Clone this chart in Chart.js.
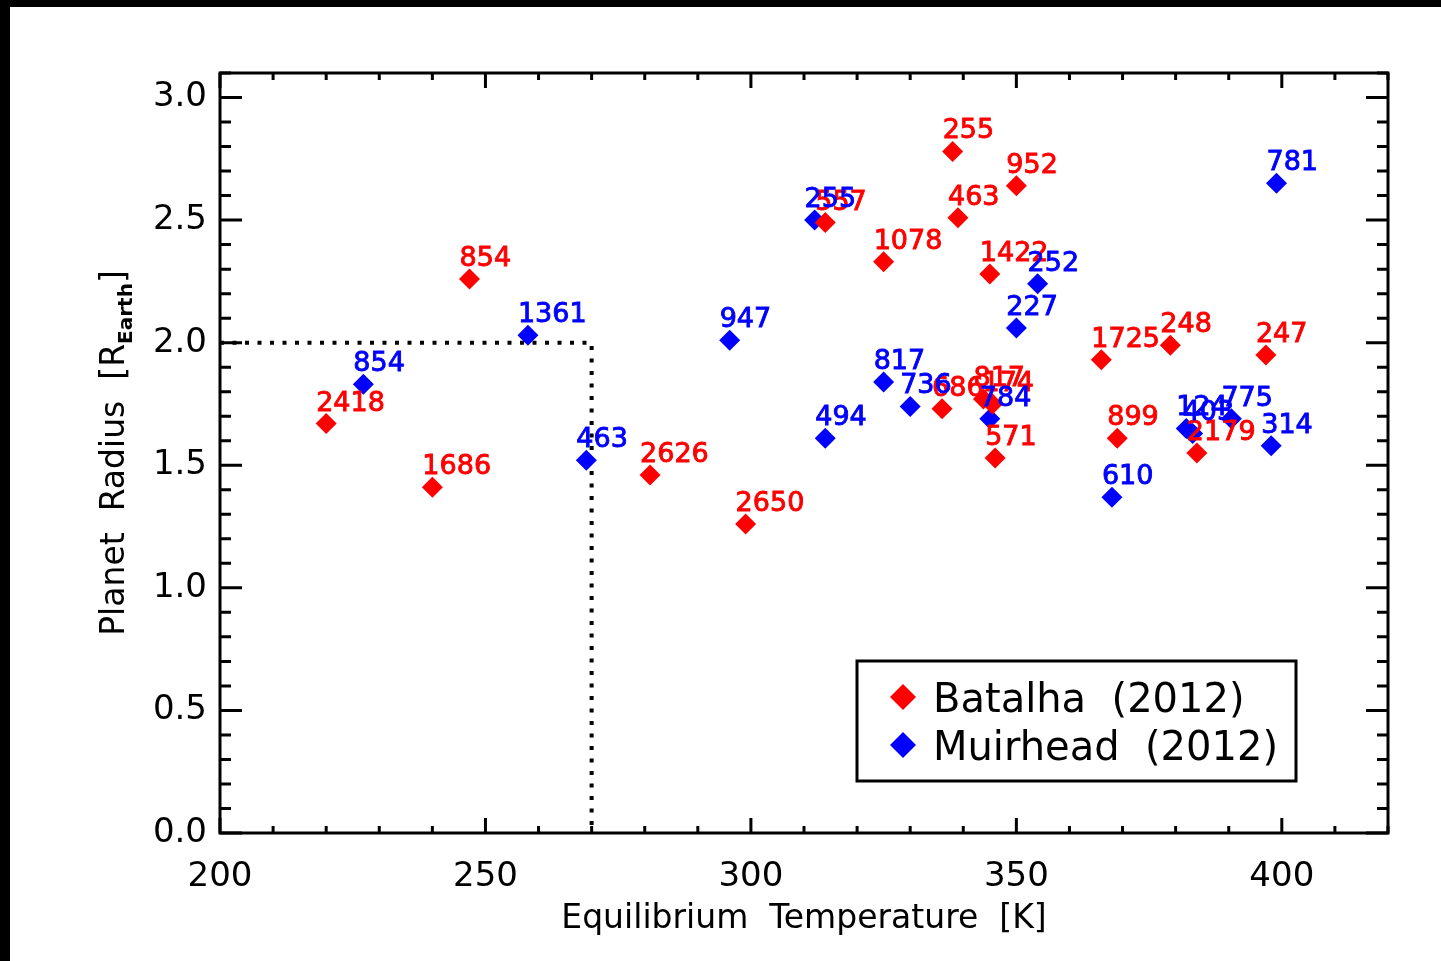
<!DOCTYPE html>
<html>
<head>
<meta charset="utf-8">
<script src="https://cdn.jsdelivr.net/npm/chart.js@4.4.1/dist/chart.umd.min.js"></script>
<style>
  body { margin: 0; background: #fff; }
  #wrap { position: relative; width: 1441px; height: 961px; overflow: hidden; }
  #barTop { position: absolute; left: 0; top: 0; width: 1441px; height: 7px; background: #000; }
  #barLeft { position: absolute; left: 0; top: 0; width: 10px; height: 961px; background: #000; }
  canvas { position: absolute; left: 0; top: 0; }
</style>
</head>
<body>
<div id="wrap">
  <canvas id="myChart" width="1441" height="961"></canvas>
  <div id="barTop"></div>
  <div id="barLeft"></div>
</div>
<script>
// Batalha (2012) candidates
var batalhaTemp   = [220, 240, 247, 281, 299, 314, 338, 350, 339, 325, 345, 336, 343.8, 345.5, 346, 366, 379, 397, 369, 384];
var batalhaRadius = [1.67, 1.41, 2.26, 1.46, 1.26, 2.49, 2.78, 2.64, 2.51, 2.33, 2.28, 1.73, 1.77, 1.75, 1.53, 1.93, 1.99, 1.95, 1.61, 1.55];
var batalhaKoi    = ["2418", "1686", "854", "2626", "2650", "557", "255", "952", "463", "1078", "1422", "686", "817", "174", "571", "1725", "248", "247", "899", "2179"];

// Muirhead (2012) candidates
var muirheadTemp   = [227, 258, 269, 296, 312, 314, 325, 330, 345, 350, 354, 368, 382, 383.2, 390.5, 398, 399];
var muirheadRadius = [1.83, 2.03, 1.52, 2.01, 2.50, 1.61, 1.84, 1.74, 1.69, 2.06, 2.24, 1.37, 1.65, 1.63, 1.69, 1.58, 2.65];
var muirheadKoi    = ["854", "1361", "463", "947", "255", "494", "817", "736", "784", "227", "252", "610", "124", "403", "775", "314", "781"];

// habitable corner (dotted)
var cornerTemp   = [200, 270, 270];
var cornerRadius = [2.0, 2.0, 0.0];

var xMin = 200, xMax = 420, yMin = 0, yMax = 3.1;

var FONT = "'DejaVu Sans', sans-serif";

function pts(xs, ys) {
  var out = [];
  for (var i = 0; i < xs.length; i++) out.push({x: xs[i], y: ys[i]});
  return out;
}

// frame + inward ticks on all four sides
var frameTicks = {
  id: 'frameTicks',
  beforeDatasetsDraw: function(chart) {
    var ctx = chart.ctx, a = chart.chartArea;
    var xs = chart.scales.x, ys = chart.scales.y;
    ctx.save();
    ctx.strokeStyle = '#000';
    ctx.lineWidth = 3;
    ctx.lineCap = 'square';
    ctx.strokeRect(a.left, a.top, a.right - a.left, a.bottom - a.top);
    ctx.lineCap = 'butt';
    ctx.beginPath();
    for (var t = 200; t <= 420; t += 10) {
      var px = xs.getPixelForValue(t);
      var len = (t % 50 === 0) ? 15 : 7;
      ctx.moveTo(px, a.bottom); ctx.lineTo(px, a.bottom - len);
      ctx.moveTo(px, a.top); ctx.lineTo(px, a.top + len);
    }
    for (var k = 0; k <= 31; k++) {
      var py = ys.getPixelForValue(k / 10);
      var l2 = (k % 5 === 0) ? 22 : 11;
      ctx.moveTo(a.left, py); ctx.lineTo(a.left + l2, py);
      ctx.moveTo(a.right, py); ctx.lineTo(a.right - l2, py);
    }
    ctx.stroke();
    ctx.restore();
  }
};

// KOI numbers next to each point
var pointLabels = {
  id: 'pointLabels',
  afterDatasetsDraw: function(chart) {
    var ctx = chart.ctx;
    ctx.save();
    ctx.font = '27px ' + FONT;
    ctx.textAlign = 'left';
    ctx.textBaseline = 'alphabetic';
    ctx.lineWidth = 0.9;
    [0, 1].forEach(function(di) {
      var ds = chart.data.datasets[di];
      var meta = chart.getDatasetMeta(di);
      ctx.fillStyle = ds.backgroundColor;
      ctx.strokeStyle = ds.backgroundColor;
      meta.data.forEach(function(el, i) {
        ctx.fillText(ds.koi[i], el.x - 10, el.y - 13);
        ctx.strokeText(ds.koi[i], el.x - 10, el.y - 13);
      });
    });
    ctx.restore();
  }
};

// y title with subscript, and the boxed legend
function diamond(ctx, x, y, r, color) {
  ctx.fillStyle = color;
  ctx.beginPath();
  ctx.moveTo(x, y - r); ctx.lineTo(x + r, y); ctx.lineTo(x, y + r); ctx.lineTo(x - r, y);
  ctx.closePath();
  ctx.fill();
}

var extras = {
  id: 'extras',
  afterDraw: function(chart) {
    var ctx = chart.ctx, a = chart.chartArea;
    ctx.save();
    // y title
    var main1 = 'Planet  Radius  [R', sub = 'Earth', main2 = ']';
    ctx.font = '33px ' + FONT;
    var w1 = ctx.measureText(main1).width, w3 = ctx.measureText(main2).width;
    ctx.font = 'bold 20px ' + FONT;
    var w2 = ctx.measureText(sub).width;
    var total = w1 + w2 + w3;
    ctx.translate(124, (a.top + a.bottom) / 2);
    ctx.rotate(-Math.PI / 2);
    ctx.fillStyle = '#000';
    ctx.textBaseline = 'alphabetic';
    ctx.textAlign = 'left';
    var sx = -total / 2;
    ctx.font = '33px ' + FONT;
    ctx.fillText(main1, sx, 0);
    ctx.font = 'bold 20px ' + FONT;
    ctx.fillText(sub, sx + w1, 8);
    ctx.font = '33px ' + FONT;
    ctx.fillText(main2, sx + w1 + w2, 0);
    ctx.restore();

    // legend box
    ctx.save();
    var bx = a.right - 531, by = a.bottom - 172, bw = 439, bh = 120;
    ctx.strokeStyle = '#000';
    ctx.lineWidth = 3;
    ctx.strokeRect(bx, by, bw, bh);
    ctx.font = '40px ' + FONT;
    ctx.textBaseline = 'alphabetic';
    ctx.textAlign = 'left';
    [0, 1].forEach(function(di) {
      var ds = chart.data.datasets[di];
      var cy = by + 36 + di * 48;
      diamond(ctx, bx + 46, cy, 13, ds.backgroundColor);
      ctx.fillStyle = '#000';
      ctx.fillText(ds.label, bx + 76, cy + 15);
    });
    ctx.restore();
  }
};

var ctx = document.getElementById("myChart").getContext('2d');
var myChart = new Chart(ctx, {
  type: 'scatter',
  data: {
    datasets: [
      {
        label: 'Batalha  (2012)',
        data: pts(batalhaTemp, batalhaRadius),
        koi: batalhaKoi,
        backgroundColor: '#ff0000',
        borderColor: '#ff0000',
        borderWidth: 0,
        pointStyle: 'rectRot',
        pointRadius: 10.5
      },
      {
        label: 'Muirhead  (2012)',
        data: pts(muirheadTemp, muirheadRadius),
        koi: muirheadKoi,
        backgroundColor: '#0000ff',
        borderColor: '#0000ff',
        borderWidth: 0,
        pointStyle: 'rectRot',
        pointRadius: 10.5
      },
      {
        type: 'line',
        label: 'corner',
        data: pts(cornerTemp, cornerRadius),
        showLine: true,
        borderColor: '#000',
        borderWidth: 4,
        borderDash: [4, 8.5],
        pointRadius: 0,
        fill: false
      }
    ]
  },
  options: {
    responsive: false,
    animation: false,
    devicePixelRatio: 1,
    layout: { padding: { left: 0, top: 73, right: 53, bottom: 0 } },
    plugins: { legend: { display: false }, tooltip: { enabled: false } },
    scales: {
      x: {
        type: 'linear',
        min: xMin, max: xMax,
        grid: { display: false },
        border: { display: false },
        ticks: { stepSize: 50, includeBounds: false, color: '#000', padding: 16, font: { family: FONT, size: 34 } },
        title: { display: true, text: 'Equilibrium  Temperature  [K]', color: '#000', font: { family: FONT, size: 33 }, padding: { top: 0, bottom: 22 } },
        afterFit: function(s) { s.height = 128; }
      },
      y: {
        type: 'linear',
        min: yMin, max: yMax,
        grid: { display: false },
        border: { display: false },
        ticks: {
          stepSize: 0.5, includeBounds: false, color: '#000', padding: 5,
          font: { family: FONT, size: 34 },
          callback: function(v) { return v.toFixed(1); }
        },
        afterFit: function(s) { s.width = 220; }
      }
    }
  },
  plugins: [frameTicks, pointLabels, extras]
});
</script>
</body>
</html>
